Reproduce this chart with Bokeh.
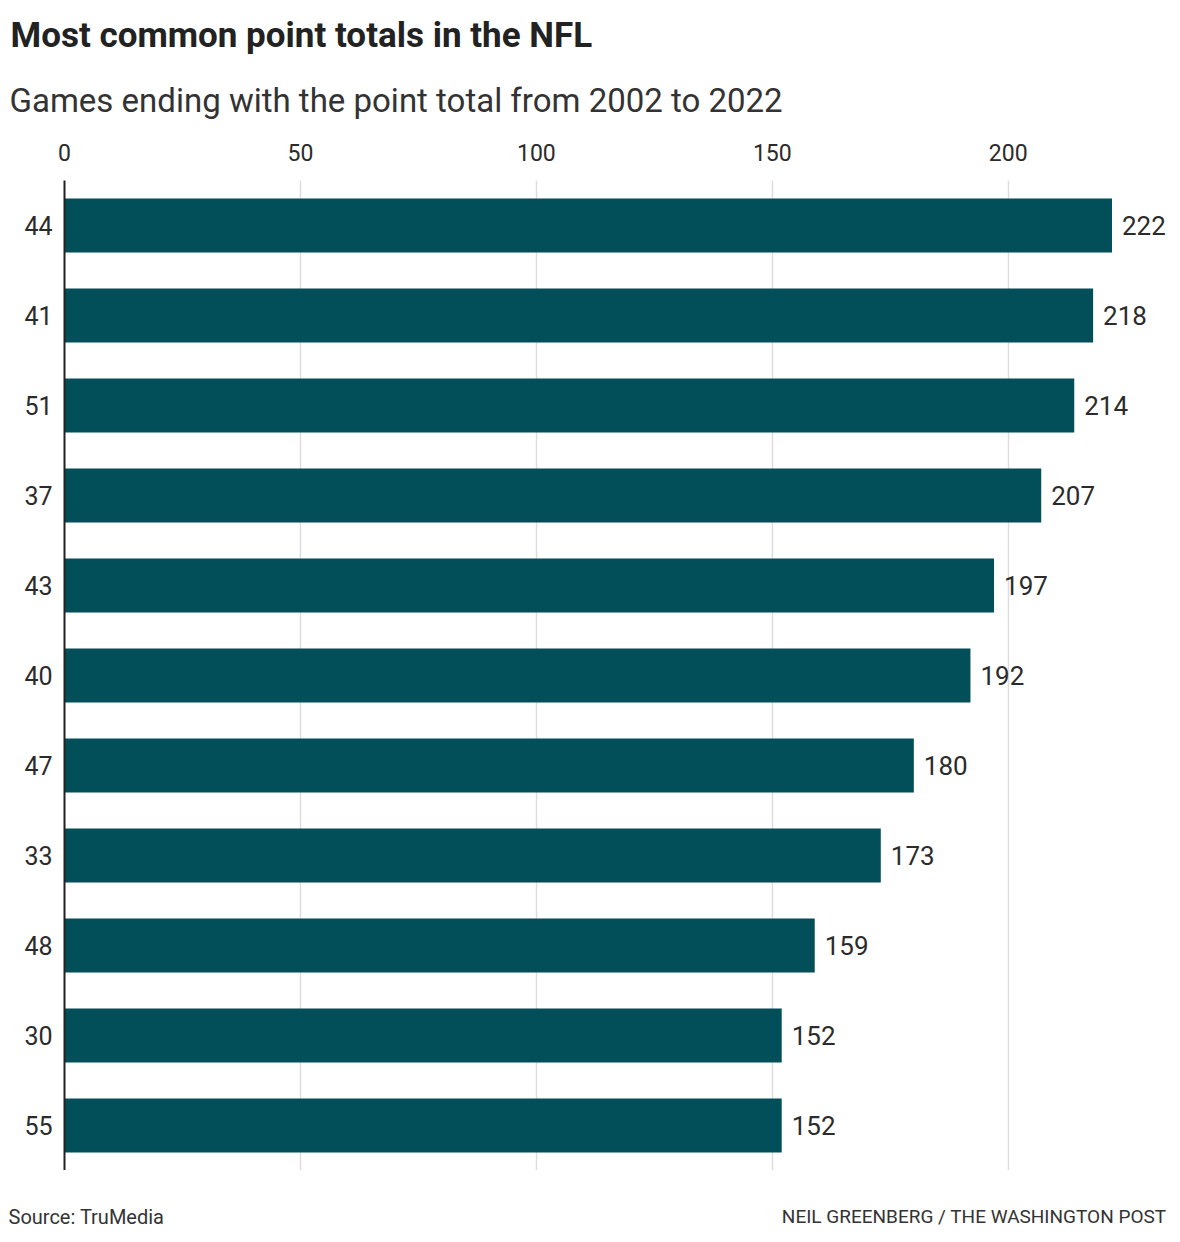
from bokeh.plotting import figure
from bokeh.layouts import column
from bokeh.models import FactorRange, Range1d, FixedTicker, Label, ColumnDataSource
from bokeh.core.properties import value
from bokeh.embed import file_html
from bokeh.resources import INLINE

# ---- data ----
point_totals = ["44", "41", "51", "37", "43", "40", "47", "33", "48", "30", "55"]
games = [222, 218, 214, 207, 197, 192, 180, 173, 159, 152, 152]
x_ticks = [0, 50, 100, 150, 200]

title_text = "Most common point totals in the NFL"
subtitle_text = "Games ending with the point total from 2002 to 2022"
source_text = "Source: TruMedia"
credit_text = "NEIL GREENBERG / THE WASHINGTON POST"

FONT = "Roboto"
BAR = "#024f59"
TXT = "#2b2b2b"
W = 1180
HEAD_H = 120
MAIN_H = 1050
FOOT_H = 72
LEFT = 64
RIGHT = 10


def blank(h):
    f = figure(width=W, height=h, x_range=Range1d(0, W), y_range=Range1d(h, 0),
               output_backend="svg", toolbar_location=None,
               min_border_left=0, min_border_right=0, min_border_top=0, min_border_bottom=0)
    f.frame_align = False
    f.axis.visible = False
    f.grid.visible = False
    f.outline_line_color = None
    f.background_fill_color = "white"
    f.border_fill_color = "white"
    return f


# ---- header ----
head = blank(HEAD_H)
head.add_layout(Label(x=10, y=35, text=title_text, text_font=FONT, text_font_style="bold",
                      text_font_size="35px", text_color="#222222", text_baseline="middle"))
head.add_layout(Label(x=9, y=100, text=subtitle_text, text_font=FONT,
                      text_font_size="33px", text_color="#333333", text_baseline="middle"))

# ---- main chart ----
src = ColumnDataSource(dict(cat=point_totals, val=games, lab=[str(v) for v in games]))

p = figure(
    width=W, height=MAIN_H,
    y_range=FactorRange(factors=list(reversed(point_totals))),
    x_range=Range1d(0, 234.4),
    x_axis_location="above",
    output_backend="svg", toolbar_location=None,
    min_border_left=LEFT, min_border_right=RIGHT, min_border_top=60, min_border_bottom=0,
)
p.frame_align = False
p.outline_line_color = None
p.background_fill_color = "white"
p.border_fill_color = "white"

p.hbar(y="cat", right="val", left=0, height=0.6, source=src, color=BAR, line_color=None)
p.text(x="val", y="cat", text="lab", source=src, x_offset=10, text_baseline="middle",
       text_align="left", text_font=value(FONT), text_font_size="26px", text_color=TXT)

xa = p.xaxis[0]
xa.ticker = FixedTicker(ticks=x_ticks)
xa.axis_line_color = None
xa.major_tick_line_color = None
xa.minor_tick_line_color = None
xa.major_label_standoff = 14
xa.major_label_text_font = FONT
xa.major_label_text_font_size = "23px"
xa.major_label_text_color = TXT

ya = p.yaxis[0]
ya.axis_line_color = "#222222"
ya.axis_line_width = 2
ya.major_tick_line_color = None
ya.minor_tick_line_color = None
ya.major_label_standoff = 6
ya.major_label_text_font = FONT
ya.major_label_text_font_size = "25px"
ya.major_label_text_color = TXT

p.xgrid.ticker = FixedTicker(ticks=x_ticks)
p.xgrid.grid_line_color = "#dddddd"
p.xgrid.grid_line_width = 1.5
p.ygrid.grid_line_color = None

# ---- footer ----
foot = blank(FOOT_H)
foot.add_layout(Label(x=8, y=46, text=source_text, text_font=FONT, text_font_size="20px",
                      text_color="#333333", text_baseline="middle"))
foot.add_layout(Label(x=1166, y=46, text=credit_text, text_font=FONT, text_font_size="19px",
                      text_color="#333333", text_baseline="middle", text_align="right"))

layout = column(head, p, foot, spacing=0)
open("out.html", "w").write(file_html(layout, INLINE))
